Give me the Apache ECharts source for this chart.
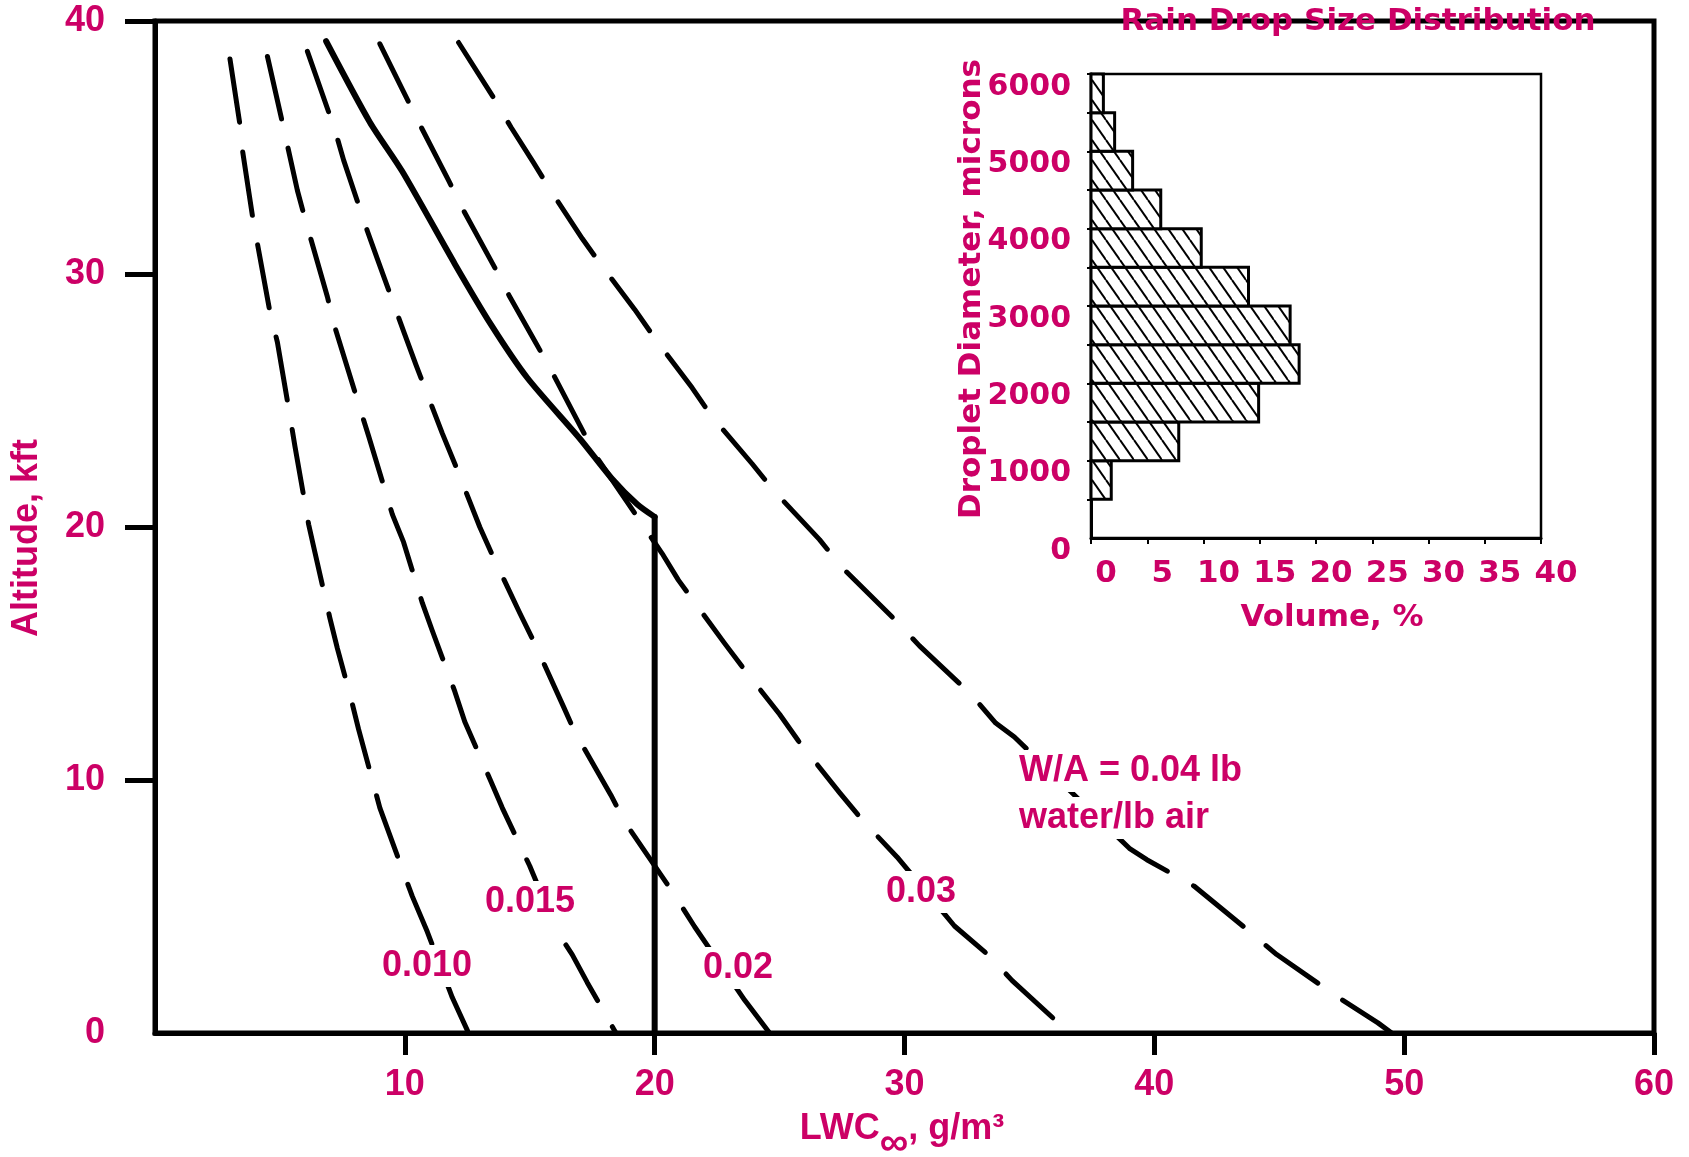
<!DOCTYPE html>
<html>
<head>
<meta charset="utf-8">
<title>LWC vs Altitude</title>
<script src="https://cdn.jsdelivr.net/npm/echarts@6.0.0/dist/echarts.min.js"></script>
<style>
body{margin:0;background:#fff;}
#chart{width:1689px;height:1157px;}
</style>
</head>
<body>
<div id="chart"></div>
<script>
// curves of LWC (g/m3) against altitude (kft)
var lwc010=[[3.0,38.5],[3.4,35.9],[3.5,34.9],[3.9,32.3],[4.1,31.2],[4.6,28.5],[4.9,27.3],[5.4,24.4],[5.6,23.2],[6.15,20.1],[6.4,19.0],[7.0,16.4],[7.3,15.2],[7.85,13.2],[8.15,12.0],[8.7,10.0],[9.0,8.9],[9.85,6.6],[10.3,5.4],[10.9,4.0],[11.9,1.4],[12.55,0]];
var lwc015=[[4.5,38.6],[5.05,36.2],[5.7,33.3],[6.0,32.2],[6.9,29.1],[7.2,27.9],[8.2,24.7],[8.55,23.6],[9.5,20.5],[9.95,19.4],[10.7,17.0],[11.1,15.9],[12.0,13.5],[12.4,12.3],[13.4,10.05],[13.9,8.9],[15.0,6.6],[16.1,4.0],[16.7,3.1],[17.3,2.0],[18.45,0]];
var lwc020=[[6.1,38.8],[7.2,35.7],[7.55,34.5],[8.5,31.7],[8.9,30.6],[10.0,27.6],[10.45,26.4],[11.5,23.7],[12.0,22.5],[13.0,20.0],[13.5,18.9],[14.6,16.6],[15.2,15.4],[16.35,12.9],[16.8,11.9],[18.25,9.4],[18.8,8.35],[20.8,5.45],[21.6,4.2],[23.6,1.3],[24.6,0]];
var lwc030=[[9.0,39.1],[9.9,37.3],[10.5,36.1],[11.75,33.7],[12.3,32.6],[13.6,30.25],[14.2,29.1],[15.2,27.35],[15.8,26.3],[17.65,22.8],[20.3,18.95],[20.95,17.9],[22.8,15.4],[23.6,14.35],[25.0,12.6],[25.75,11.55],[27.4,9.5],[28.35,8.37],[29.7,6.96],[32.0,4.23],[33.35,3.09],[34.3,2.08],[36.6,0]];
var lwc040=[[12.15,39.15],[13.5,37.05],[14.25,35.8],[15.15,34.4],[15.9,33.2],[17.1,31.4],[17.9,30.3],[19.2,28.6],[20.05,27.4],[21.5,25.5],[22.3,24.35],[23.9,22.5],[24.8,21.4],[26.6,19.5],[27.5,18.4],[29.6,16.35],[30.6,15.3],[32.65,13.4],[33.65,12.25],[34.4,11.7],[39.0,7.3],[39.7,6.85],[41.6,5.8],[43.7,4.1],[44.9,3.1],[47.3,1.45],[48.95,0.4],[49.5,0]];
// solid limit line: curved part, then straight down at 20 g/m3
var limitCurve=[[6.85,39.2],[8.6,36.0],[9.9,34.05],[12.0,30.4],[13.45,28.0],[14.9,25.9],[17.0,23.5],[18.3,21.9],[19.3,20.9],[20.0,20.4]];
var limitDrop=[[20.0,20.4],[20.0,0]];

var xTicks=[10,20,30,40,50,60];
var yTicks=[10,20,30,40];

// rain drop size distribution (inset)
var binLow=[500,1000,1500,2000,2500,3000,3500,4000,4500,5000,5500];
var binHigh=[1000,1500,2000,2500,3000,3500,4000,4500,5000,5500,6000];
var volume=[1.8,7.8,14.9,18.5,17.7,14.0,9.8,6.2,3.7,2.1,1.1];

var pink='#CC0066';
var fontMain='"Liberation Sans", Arial, sans-serif';
var fontInset='"DejaVu Sans", sans-serif';

//斜线填充
function hatch(){
	var c=document.createElement('canvas');
	c.width=14;c.height=20;
	var ctx=c.getContext('2d');
	ctx.fillStyle='#fff';
	ctx.fillRect(0,0,14,20);
	ctx.strokeStyle='#000';
	ctx.lineWidth=2;
	for(var k=-1;k<=1;k++){
		ctx.beginPath();
		ctx.moveTo(k*14,0);
		ctx.lineTo(k*14+14,20);
		ctx.stroke();
	}
	return c;
}
var hatchFill={type:'pattern',image:hatch(),repeat:'repeat'};

var barData=[];
for(var i=0;i<volume.length;i++){
	barData.push([volume[i],binLow[i],binHigh[i]]);
}

function dashed(data){
	return {
		type:'line',
		data:data,
		xAxisIndex:0,
		yAxisIndex:0,
		symbol:'none',
		smooth:false,
		lineStyle:{color:'#000',width:5,type:[64,30],cap:'round',join:'round'},
		z:3
	};
}

function solid(data,smooth){
	return {
		type:'line',data:data,xAxisIndex:0,yAxisIndex:0,
		symbol:'none',smooth:smooth,
		lineStyle:{color:'#000',width:6,join:'round',cap:'round'},
		z:4
	};
}

function label(txt,x,y,align){
	return {
		type:'text',
		x:x,y:y,z:100,
		style:{
			text:txt,
			fill:pink,
			font:'bold 36px '+fontMain,
			align:align||'center',
			verticalAlign:'middle',
			backgroundColor:'#fff',
			padding:[3,5]
		}
	};
}

function echarts_lwc(){
	var container=echarts.init(document.getElementById('chart'));
	var option={
		backgroundColor:'#fff',
		animation:false,
		grid:[
			{left:155,right:35,top:21,bottom:124,show:true,borderColor:'#000',borderWidth:5},
			{left:1091,top:74,width:450,height:464,show:true,borderColor:'#000',borderWidth:2.5}
		],
		xAxis:[{
			type:'value',gridIndex:0,min:0,max:60,interval:10,
			axisLine:{lineStyle:{color:'#000',width:5}},
			axisTick:{length:22,customValues:xTicks,lineStyle:{color:'#000',width:5}},
			splitLine:{show:false},
			axisLabel:{
				color:pink,fontSize:36,fontWeight:'bold',fontFamily:fontMain,margin:34,
				customValues:xTicks
			}
		},{
			type:'value',gridIndex:1,min:0,max:40,interval:5,
			axisLine:{lineStyle:{color:'#000',width:3}},
			axisTick:{length:6,lineStyle:{color:'#000',width:2}},
			splitLine:{show:false},
			axisLabel:{color:pink,fontSize:31,fontWeight:'bold',fontFamily:fontInset,margin:20,padding:[0,0,0,30]}
		}],
		yAxis:[{
			type:'value',gridIndex:0,min:0,max:40,interval:10,
			axisLine:{show:true,lineStyle:{color:'#000',width:5}},
			axisTick:{show:true,length:30,customValues:yTicks,lineStyle:{color:'#000',width:5}},
			splitLine:{show:false},
			axisLabel:{color:pink,fontSize:36,fontWeight:'bold',fontFamily:fontMain,margin:50}
		},{
			type:'value',gridIndex:1,min:0,max:6000,interval:1000,
			axisLine:{show:true,lineStyle:{color:'#000',width:3}},
			axisTick:{show:true,length:4,customValues:binLow.concat([6000]),lineStyle:{color:'#000',width:2}},
			splitLine:{show:false},
			axisLabel:{
				color:pink,fontSize:30,fontWeight:'bold',fontFamily:fontInset,margin:20,verticalAlign:'top',lineHeight:26,
				formatter:function(v){return String(v);}
			}
		}],
		series:[
			dashed(lwc010),
			dashed(lwc015),
			dashed(lwc020),
			dashed(lwc030),
			dashed(lwc040),
			solid(limitCurve,0.25),
			solid(limitDrop,false),
			{
				type:'custom',xAxisIndex:1,yAxisIndex:1,
				data:barData,
				encode:{x:0,y:[1,2]},
				renderItem:function(params,api){
					var p0=api.coord([0,api.value(2)]);
					var p1=api.coord([api.value(0),api.value(1)]);
					return {
						type:'rect',
						shape:{x:p0[0],y:p0[1],width:p1[0]-p0[0],height:p1[1]-p0[1]},
						style:{fill:hatchFill,stroke:'#000',lineWidth:3}
					};
				}
			}
		],
		graphic:[
			label('0.010',427,966),
			label('0.015',530,902),
			label('0.02',738,968),
			label('0.03',921,892),
			label('W/A = 0.04 lb',1014,771,'left'),
			label('water/lb air',1014,818,'left'),
			{
				type:'text',x:27,y:538,rotation:Math.PI/2,z:100,
				style:{text:'Altitude, kft',fill:pink,font:'bold 36px '+fontMain,align:'center',verticalAlign:'middle'}
			},
			{
				type:'text',x:902,y:1129,z:100,
				style:{
					text:'{a|LWC}{b|∞}{a|, g/m³}',
					align:'center',verticalAlign:'middle',
					rich:{
						a:{fill:pink,font:'bold 36px '+fontMain},
						b:{fill:pink,font:'bold 40px '+fontMain,padding:[30,0,0,0]}
					}
				}
			},
			{
				type:'text',x:1358,y:22,z:100,
				style:{text:'Rain Drop Size Distribution',fill:pink,font:'bold 31px '+fontInset,align:'center',verticalAlign:'middle'}
			},
			{
				type:'text',x:972,y:289,rotation:Math.PI/2,z:100,
				style:{text:'Droplet Diameter, microns',fill:pink,font:'bold 31px '+fontInset,align:'center',verticalAlign:'middle'}
			},
			{
				type:'text',x:1332,y:618,z:100,
				style:{text:'Volume, %',fill:pink,font:'bold 31px '+fontInset,align:'center',verticalAlign:'middle'}
			}
		]
	};
	container.setOption(option,true);
}

echarts_lwc();
</script>
</body>
</html>
